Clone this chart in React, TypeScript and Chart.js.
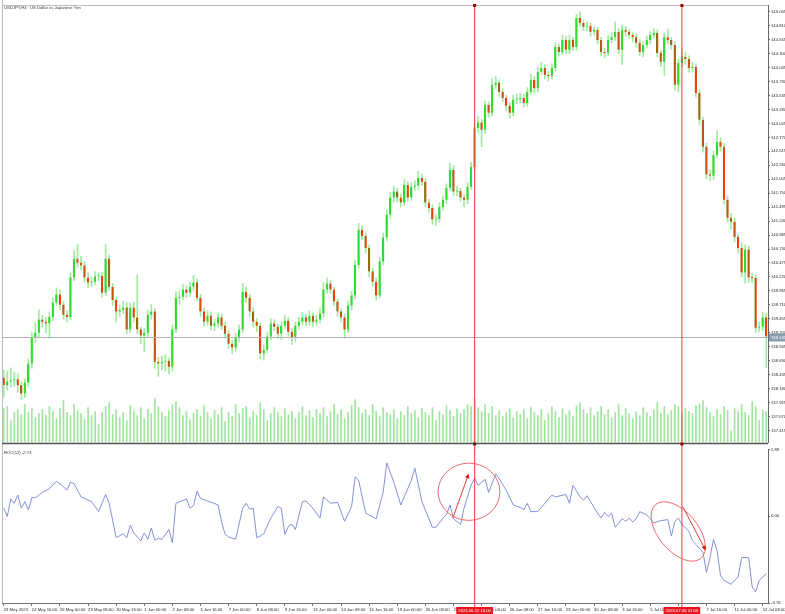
import React, { useEffect, useRef } from "react";
import { Chart, registerables } from "chart.js";
Chart.register(...registerables);

const symbolTitle = "USDJPY,H4:  US Dollar vs Japanese Yen";
const rocTitle = "ROC(12) -2.74";

const opens = [
  138.38,138.24,138.31,138.33,138.35,138.24,138.09,138.29,138.64,139.11,
  139.20,139.44,139.40,139.37,139.49,139.75,139.90,139.71,139.53,139.49,
  140.21,140.55,140.48,140.43,140.21,140.12,140.13,140.23,140.24,139.93,
  140.55,140.04,139.80,139.59,139.62,139.66,139.26,139.66,139.48,139.26,
  139.15,139.20,139.53,139.59,138.67,138.64,138.67,138.69,138.58,139.26,
  139.84,139.86,139.99,139.93,140.04,140.12,139.84,139.59,139.40,139.51,
  139.33,139.37,139.48,139.33,139.18,139.00,138.93,139.11,139.26,139.95,
  139.84,139.59,139.40,139.33,138.82,138.89,139.13,139.37,139.31,139.18,
  139.33,139.42,139.22,139.11,139.33,139.40,139.48,139.40,139.51,139.40,
  139.44,139.55,139.99,140.10,139.99,139.77,139.59,139.48,139.26,139.70,
  139.88,140.44,141.08,140.97,140.75,140.32,140.13,139.88,140.50,140.94,
  141.36,141.67,141.78,141.67,141.58,141.90,141.67,141.87,141.89,142.03,
  141.96,141.58,141.48,141.27,141.28,141.50,141.63,141.85,142.18,141.78,
  141.79,141.67,141.63,141.87,142.23,142.94,143.04,142.91,143.36,143.22,
  143.73,143.77,143.60,143.49,143.35,143.22,143.46,143.47,143.49,143.40,
  143.60,143.82,143.67,143.97,144.04,143.91,143.89,144.04,144.42,144.33,
  144.55,144.37,144.55,144.42,144.95,144.86,144.79,144.81,144.70,144.73,
  144.55,144.33,144.31,144.55,144.60,144.70,144.37,144.73,144.70,144.64,
  144.60,144.50,144.33,144.46,144.55,144.64,144.68,144.31,144.15,144.60,
  144.55,144.46,143.73,144.13,144.24,144.20,144.04,144.06,143.58,143.09,
  142.60,142.09,142.07,142.45,142.69,142.60,141.63,141.30,141.23,140.95,
  140.75,140.30,140.72,140.21,140.20,139.29,139.31,139.48,
];

const closes = [
  138.24,138.31,138.33,138.35,138.24,138.09,138.29,138.64,139.11,139.20,
  139.44,139.40,139.37,139.49,139.75,139.90,139.71,139.53,139.49,140.21,
  140.55,140.48,140.43,140.21,140.12,140.13,140.23,140.24,139.93,140.55,
  140.04,139.80,139.59,139.62,139.66,139.26,139.66,139.48,139.26,139.15,
  139.20,139.53,139.59,138.67,138.64,138.67,138.69,138.58,139.26,139.84,
  139.86,139.99,139.93,140.04,140.12,139.84,139.59,139.40,139.51,139.33,
  139.37,139.48,139.33,139.18,139.00,138.93,139.11,139.26,139.95,139.84,
  139.59,139.40,139.33,138.82,138.89,139.13,139.37,139.31,139.18,139.33,
  139.42,139.22,139.11,139.33,139.40,139.48,139.40,139.51,139.40,139.44,
  139.55,139.99,140.10,139.99,139.77,139.59,139.48,139.26,139.70,139.88,
  140.44,141.08,140.97,140.75,140.32,140.13,139.88,140.50,140.94,141.36,
  141.67,141.78,141.67,141.58,141.90,141.67,141.87,141.89,142.03,141.96,
  141.58,141.48,141.27,141.28,141.50,141.63,141.85,142.18,141.78,141.79,
  141.67,141.63,141.87,142.23,142.94,143.04,142.91,143.36,143.22,143.73,
  143.77,143.60,143.49,143.35,143.22,143.46,143.47,143.49,143.40,143.60,
  143.82,143.67,143.97,144.04,143.91,143.89,144.04,144.42,144.33,144.55,
  144.37,144.55,144.42,144.95,144.86,144.79,144.81,144.70,144.73,144.55,
  144.33,144.31,144.55,144.60,144.70,144.37,144.73,144.70,144.64,144.60,
  144.50,144.33,144.46,144.55,144.64,144.68,144.31,144.15,144.60,144.55,
  144.46,143.73,144.13,144.24,144.20,144.04,144.06,143.58,143.09,142.60,
  142.09,142.07,142.45,142.69,142.60,141.63,141.30,141.23,140.95,140.75,
  140.30,140.72,140.21,140.20,139.29,139.31,139.48,139.13,
];

const highs = [
  138.52,138.50,138.56,138.48,138.45,138.30,138.36,138.72,139.20,139.38,
  139.62,139.52,139.48,139.58,139.84,140.02,139.98,139.78,139.60,140.30,
  140.70,140.82,140.60,140.50,140.30,140.22,140.32,140.30,140.30,140.82,
  140.62,140.10,139.85,139.70,139.78,139.75,139.74,139.76,140.26,139.30,
  139.28,139.62,139.72,139.64,138.75,138.78,138.80,138.74,139.34,139.95,
  139.96,140.08,140.06,140.12,140.25,140.18,139.90,139.65,139.60,139.58,
  139.45,139.56,139.54,139.40,139.24,139.06,139.18,139.34,140.10,140.04,
  139.90,139.66,139.46,139.38,138.98,139.20,139.46,139.44,139.36,139.40,
  139.52,139.48,139.28,139.40,139.48,139.58,139.54,139.60,139.56,139.52,
  139.64,140.12,140.20,140.16,140.04,139.82,139.64,139.54,139.78,139.96,
  140.52,141.20,141.16,141.02,140.80,140.38,140.20,140.58,141.02,141.45,
  141.76,141.88,141.84,141.74,142.00,141.96,141.94,141.98,142.15,142.10,
  142.02,141.64,141.54,141.36,141.58,141.70,141.92,142.30,142.26,141.88,
  141.84,141.72,141.95,142.32,143.02,143.16,143.10,143.44,143.42,143.84,
  143.88,143.82,143.66,143.54,143.40,143.54,143.56,143.58,143.56,143.68,
  143.92,143.88,144.05,144.14,144.10,143.98,144.12,144.50,144.48,144.64,
  144.62,144.64,144.60,145.02,145.07,144.92,144.88,144.86,144.80,144.78,
  144.60,144.40,144.62,144.68,144.88,144.76,144.82,144.80,144.74,144.68,
  144.66,144.56,144.52,144.62,144.70,144.76,144.74,144.36,144.68,144.75,
  144.60,144.52,144.20,144.40,144.32,144.26,144.14,144.12,143.64,143.14,
  142.66,142.18,142.52,142.90,142.76,142.66,141.70,141.38,141.30,141.00,
  140.85,140.80,140.78,140.28,140.26,139.40,139.58,139.56,
];

const lows = [
  138.02,138.15,138.20,138.22,138.12,137.98,138.02,138.22,138.55,139.02,
  139.12,139.30,139.20,139.10,139.42,139.70,139.62,139.45,139.40,139.44,
  140.15,140.40,140.35,140.12,140.02,140.04,140.08,140.15,139.85,139.88,
  139.98,139.70,139.40,139.50,139.55,139.18,139.20,139.40,139.18,139.00,
  138.85,139.12,139.45,138.55,138.40,138.52,138.50,138.45,138.50,139.20,
  139.72,139.80,139.84,139.86,139.98,139.78,139.50,139.32,139.34,139.25,
  139.24,139.30,139.26,139.10,138.92,138.82,138.86,139.04,139.20,139.76,
  139.50,139.30,139.22,138.72,138.70,138.84,139.08,139.24,139.10,139.08,
  139.28,139.14,138.98,139.04,139.26,139.34,139.32,139.34,139.30,139.34,
  139.38,139.48,139.92,139.92,139.70,139.50,139.40,139.10,139.20,139.62,
  139.82,140.38,140.90,140.66,140.22,140.05,139.80,139.84,140.44,140.88,
  141.30,141.60,141.58,141.50,141.52,141.60,141.62,141.80,141.82,141.90,
  141.50,141.40,141.18,141.16,141.22,141.44,141.56,141.80,141.70,141.70,
  141.60,141.50,141.56,141.82,142.18,142.86,142.60,142.84,143.14,143.16,
  143.66,143.52,143.42,143.26,143.12,143.16,143.38,143.40,143.32,143.34,
  143.55,143.58,143.60,143.92,143.84,143.80,143.84,143.98,144.26,144.28,
  144.30,144.30,144.36,144.36,144.80,144.72,144.72,144.62,144.64,144.48,
  144.26,144.22,144.26,144.50,144.54,144.30,144.10,144.62,144.58,144.52,
  144.42,144.26,144.24,144.40,144.48,144.58,144.24,144.06,143.90,144.48,
  144.38,143.62,143.60,144.06,144.10,143.96,143.96,143.50,143.00,142.50,
  142.00,141.98,142.00,142.40,142.52,141.55,141.22,141.10,140.86,140.66,
  140.22,140.10,140.12,140.12,139.20,139.22,139.24,138.56,
];

const volumes = [
  34000,36000,22000,30000,33000,28000,38000,30000,34000,25000,
  29000,33000,27000,36000,31000,24000,34000,42000,30000,27000,
  38000,32000,29000,23000,35000,27000,31000,18000,30000,36000,
  40000,28000,33000,25000,30000,22000,37000,31000,27000,35000,
  24000,33000,29000,44000,36000,30000,26000,32000,38000,41000,
  35000,27000,31000,23000,29000,33000,26000,37000,30000,24000,
  32000,28000,35000,21000,30000,26000,38000,29000,34000,36000,
  25000,31000,27000,40000,33000,22000,29000,35000,30000,26000,
  34000,28000,31000,24000,30000,36000,27000,32000,25000,33000,
  29000,35000,26000,31000,38000,28000,33000,24000,30000,37000,
  43000,35000,29000,33000,27000,38000,31000,26000,35000,30000,
  28000,33000,24000,31000,27000,36000,29000,32000,25000,34000,
  30000,27000,35000,22000,31000,28000,37000,32000,26000,34000,
  29000,33000,38000,36000,44000,35000,31000,38000,29000,36000,
  27000,32000,26000,30000,34000,25000,31000,28000,33000,24000,
  35000,30000,27000,33000,22000,29000,36000,31000,25000,34000,
  28000,32000,26000,37000,40000,33000,29000,35000,27000,31000,
  36000,28000,33000,25000,30000,38000,27000,34000,29000,24000,
  31000,27000,35000,30000,26000,33000,40000,29000,36000,28000,
  32000,38000,36000,30000,34000,31000,29000,37000,39000,42000,
  35000,30000,26000,33000,28000,36000,32000,12000,34000,31000,
  38000,30000,27000,41000,36000,22000,33000,31000,
];

const rocBars = [
  0,1,2,3,4,5,6,7,8,9,11,13,15,16,18,19,20,22,25,27,29,30,
  32,34,35,36,37,39,40,41,42,43,44,45,47,48,
  49,52,53,54,55,56,58,61,62,63,64,66,68,69,70,71,72,
  73,74,76,78,79,80,81,82,83,85,86,88,90,91,93,95,96,97,99,
  100,101,103,106,108,109,111,113,115,116,117,119,
  122,123,125,126,127,128,130,131,133,134,135,137,138,140,141,143,145,147,
  148,149,150,152,154,156,157,160,161,162,164,165,166,167,169,170,171,172,173,174,
  176,177,178,179,180,181,183,185,187,189,190,191,192,193,195,196,197,199,
  200,201,202,203,204,205,207,208,209,210,212,213,214,215,217,
];

const rocValues = [
  0.35,-0.01,0.75,0.56,0.92,0.35,0.63,0.28,0.80,0.80,1.03,1.20,1.51,1.41,1.13,1.48,1.41,0.84,0.63,0.20,0.94,0.56,
  -0.93,-0.76,-0.93,-0.39,-0.72,-1.07,-0.72,-1.00,-0.51,-1.04,-0.96,-1.00,-0.58,-1.15,
  0.56,0.75,0.35,0.46,1.09,0.77,0.66,0.49,-0.25,-0.79,-0.90,-1.00,0.35,0.56,0.30,0.35,-0.93,
  -0.86,-0.76,-0.08,0.42,0.35,-0.79,-0.44,-0.34,-0.58,0.63,0.66,0.35,-0.08,0.84,0.56,0.60,0.20,-0.22,0.42,
  1.70,1.56,0.13,-0.11,1.06,2.31,1.48,0.49,1.20,1.56,2.08,0.63,
  -0.48,-0.48,-0.08,0.06,0.49,-0.11,-0.36,0.35,1.34,1.65,1.34,1.60,1.03,1.84,1.62,1.13,0.49,0.38,
  0.28,0.56,0.20,0.20,0.56,0.92,0.84,0.94,0.56,1.34,0.84,0.70,0.89,0.63,0.13,-0.08,0.17,-0.01,0.13,-0.48,
  -0.11,-0.22,-0.08,-0.25,-0.11,0.20,0.06,-0.29,-0.19,-0.15,-0.86,-0.22,-0.08,-0.36,-0.65,-1.07,-1.22,-1.57,
  -2.43,-1.79,-1.00,-1.50,-2.57,-2.78,-2.95,-2.78,-2.64,-1.79,-1.79,-3.07,-3.28,-2.78,-2.49,
];

const priceTicks = [
  145.065,144.810,144.555,144.300,144.045,143.790,143.535,143.280,143.025,142.770,
  142.515,142.260,142.005,141.750,141.495,141.240,140.985,140.730,140.475,140.220,
  139.965,139.710,139.455,139.200,138.945,138.690,138.435,138.180,137.925,137.670,137.415,
];
const priceMin = 137.195;
const priceMax = 145.189;

const rocTicks = [2.89, 0, -3.76];
const rocTickLabels = ["2.89", "0.00", "-3.76"];

const timeTickBars = [0,8,16,24,32,40,48,56,64,72,80,88,96,104,112,120,128,136,144,152,160,168,176,184,192,200,208,216];
const timeTickLabels = [
  "23 May 2023","24 May 16:00","26 May 00:00","29 May 08:00","30 May 16:00","1 Jun 00:00","2 Jun 08:00",
  "5 Jun 16:00","7 Jun 00:00","8 Jun 08:00","9 Jun 16:00","13 Jun 00:00","14 Jun 08:00","15 Jun 16:00",
  "19 Jun 00:00","20 Jun 08:00","21 Jun 16:00","23 Jun 00:00","26 Jun 08:00","27 Jun 16:00","29 Jun 00:00",
  "30 Jun 08:00","3 Jul 16:00","5 Jul 00:00","6 Jul 08:00","7 Jul 16:00","11 Jul 00:00","12 Jul 08:00",
];

const markerBars = [134, 193];
const markerLabels = ["2023.06.22 16:00", "2023.07.06 12:00"];
const bidPrice = 139.131;

const ellipseNotes = [
  { bar: 132.4, value: 1.06, rxBars: 8.8, ryValue: 1.24, angleDeg: 0 },
  { bar: 191.95, value: -0.66, rxBars: 10.0, ryValue: 0.85, angleDeg: 50 },
];
const arrowNotes = [
  { fromBar: 127.8, fromValue: -0.08, toBar: 132.2, toValue: 1.79 },
  { fromBar: 193.2, fromValue: 0.42, toBar: 199.6, toValue: -1.43 },
];

const FONT = '"Liberation Sans", Arial, sans-serif';
const FS = 4.2;
const BULL = "#2fdc2f";
const BEAR = "#f2400f";
const BEAR_EDGE = "#8d6a10";
const WICK = "#a2eaa2";
const VOL = "#9fe49f";
const RED_LINE = "rgba(240, 60, 60, 0.85)";

function drawMarkerLine(ctx: CanvasRenderingContext2D, x: number, y1: number, y2: number) {
  ctx.save();
  ctx.fillStyle = RED_LINE;
  ctx.fillRect(x - 0.6, y1, 1.2, y2 - y1);
  ctx.restore();
}

export default function App() {
  const mainRef = useRef<HTMLCanvasElement>(null);
  const rocRef = useRef<HTMLCanvasElement>(null);

  useEffect(() => {
    const labels = opens.map((_, i) => String(i));

    const mainPlugin = {
      id: "mainDecor",
      afterDraw(chart: any) {
        const { ctx, chartArea } = chart;
        const xs = chart.scales.x;
        const ys = chart.scales.y;
        ctx.save();
        ctx.strokeStyle = "#bdbdbd";
        ctx.lineWidth = 1;
        ctx.beginPath();
        ctx.moveTo(chartArea.left + 0.5, 0);
        ctx.lineTo(chartArea.left + 0.5, chart.height);
        ctx.moveTo(chartArea.left, chartArea.top + 0.5);
        ctx.lineTo(chartArea.right, chartArea.top + 0.5);
        ctx.stroke();
        ctx.strokeStyle = "#555";
        ctx.lineWidth = 1.5;
        ctx.beginPath();
        ctx.moveTo(chartArea.left, chartArea.bottom + 1);
        ctx.lineTo(chartArea.right, chartArea.bottom + 1);
        ctx.stroke();
        // bid line
        const by = Math.round(ys.getPixelForValue(bidPrice)) + 0.5;
        ctx.strokeStyle = "#b4b4b4";
        ctx.lineWidth = 1;
        ctx.beginPath();
        ctx.moveTo(chartArea.left, by);
        ctx.lineTo(chartArea.right, by);
        ctx.stroke();
        ctx.fillStyle = "#8a9cb2";
        ctx.fillRect(chartArea.right + 1, by - 4, chart.width - chartArea.right - 1, 8);
        ctx.fillStyle = "#ffffff";
        ctx.font = `${FS}px ${FONT}`;
        ctx.textBaseline = "middle";
        ctx.textAlign = "left";
        ctx.fillText(bidPrice.toFixed(3), chartArea.right + 3, by);
        // marker lines
        markerBars.forEach((b) => {
          const x = xs.getPixelForValue(b);
          drawMarkerLine(ctx, x, chartArea.top, chart.height);
          ctx.fillStyle = "#9a0000";
          ctx.fillRect(x - 1.5, chartArea.top - 1, 3, 3);
          ctx.fillRect(x - 1.5, chartArea.bottom, 3, 3);
        });
        // title
        ctx.fillStyle = "#333";
        ctx.font = `${FS}px ${FONT}`;
        ctx.textAlign = "left";
        ctx.textBaseline = "middle";
        ctx.fillText(symbolTitle, chartArea.left + 2, chartArea.top + 2.5);
        ctx.restore();
      },
    };

    const mainChart = new Chart(mainRef.current as HTMLCanvasElement, {
      type: "bar",
      data: {
        labels,
        datasets: [
          {
            type: "bar",
            label: "Volume",
            data: volumes,
            yAxisID: "yv",
            backgroundColor: VOL,
            barThickness: 1,
            grouped: false,
            order: 3,
          } as any,
          {
            type: "bar",
            label: "Range",
            data: labels.map((_, i) => [lows[i], highs[i]]),
            yAxisID: "y",
            backgroundColor: WICK,
            barThickness: 1,
            grouped: false,
            order: 2,
          } as any,
          {
            type: "bar",
            label: "Body",
            data: labels.map((_, i) => [opens[i], closes[i]]),
            yAxisID: "y",
            backgroundColor: (c: any) => (closes[c.dataIndex] >= opens[c.dataIndex] ? BULL : BEAR),
            borderColor: (c: any) => (closes[c.dataIndex] >= opens[c.dataIndex] ? BULL : BEAR_EDGE),
            borderWidth: { left: 1, right: 0, top: 0, bottom: 0 },
            borderSkipped: false,
            barThickness: 2,
            minBarLength: 1,
            grouped: false,
            order: 1,
          } as any,
        ],
      },
      options: {
        animation: false,
        responsive: false,
        maintainAspectRatio: false,
        events: [],
        layout: { padding: { left: 2, top: 5, right: 0, bottom: 3 } },
        plugins: { legend: { display: false }, tooltip: { enabled: false } },
        scales: {
          x: { type: "category", display: false, offset: true, grid: { display: false } },
          y: {
            position: "right",
            min: priceMin,
            max: priceMax,
            afterBuildTicks: (a: any) => {
              a.ticks = priceTicks.map((v) => ({ value: v }));
            },
            afterFit: (s: any) => {
              s.width = 17;
            },
            ticks: {
              autoSkip: false,
              padding: 1,
              color: "#2a2a2a",
              font: { size: FS, family: FONT },
              callback: (v: any) => Number(v).toFixed(3),
            },
            grid: { drawOnChartArea: false, tickLength: 2, color: "#666" },
            border: { display: true, color: "#666" },
          },
          yv: { display: false, min: 0, max: 438000 },
        },
      } as any,
      plugins: [mainPlugin],
    });

    const rocPlugin = {
      id: "rocDecor",
      afterDraw(chart: any) {
        const { ctx, chartArea } = chart;
        const xs = chart.scales.x;
        const ys = chart.scales.y;
        ctx.save();
        ctx.strokeStyle = "#bdbdbd";
        ctx.lineWidth = 1;
        ctx.beginPath();
        ctx.moveTo(chartArea.left + 0.5, 0);
        ctx.lineTo(chartArea.left + 0.5, chartArea.bottom);
        ctx.stroke();
        // marker lines and labels
        markerBars.forEach((b, i) => {
          const x = xs.getPixelForValue(b);
          drawMarkerLine(ctx, x, 0, chartArea.bottom + 4);
          ctx.font = `${FS}px ${FONT}`;
          const w = ctx.measureText(markerLabels[i]).width + 4;
          ctx.fillStyle = "#e8141e";
          ctx.fillRect(x - w / 2, chartArea.bottom + 4, w, 7);
          ctx.fillStyle = "#ffffff";
          ctx.textAlign = "center";
          ctx.textBaseline = "middle";
          ctx.fillText(markerLabels[i], x, chartArea.bottom + 7.5);
        });
        // ellipses
        ellipseNotes.forEach((e) => {
          const cx = xs.getPixelForValue(e.bar);
          const cy = ys.getPixelForValue(e.value);
          const rx = Math.abs(xs.getPixelForValue(e.bar + e.rxBars) - cx);
          const ry = Math.abs(ys.getPixelForValue(e.value + e.ryValue) - cy);
          ctx.strokeStyle = "#ee6a6a";
          ctx.lineWidth = 1;
          ctx.beginPath();
          ctx.ellipse(cx, cy, rx, ry, (e.angleDeg * Math.PI) / 180, 0, Math.PI * 2);
          ctx.stroke();
        });
        // arrows
        arrowNotes.forEach((a) => {
          const x1 = xs.getPixelForValue(a.fromBar);
          const y1 = ys.getPixelForValue(a.fromValue);
          const x2 = xs.getPixelForValue(a.toBar);
          const y2 = ys.getPixelForValue(a.toValue);
          ctx.strokeStyle = "#e44040";
          ctx.lineWidth = 1;
          ctx.beginPath();
          ctx.moveTo(x1, y1);
          ctx.lineTo(x2, y2);
          ctx.stroke();
          const ang = Math.atan2(y2 - y1, x2 - x1);
          ctx.fillStyle = "#e01010";
          ctx.beginPath();
          ctx.moveTo(x2 + Math.cos(ang) * 1.5, y2 + Math.sin(ang) * 1.5);
          ctx.lineTo(x2 - Math.cos(ang - 0.6) * 4, y2 - Math.sin(ang - 0.6) * 4);
          ctx.lineTo(x2 - Math.cos(ang + 0.6) * 4, y2 - Math.sin(ang + 0.6) * 4);
          ctx.closePath();
          ctx.fill();
        });
        ctx.fillStyle = "#333";
        ctx.font = `${FS}px ${FONT}`;
        ctx.textAlign = "left";
        ctx.textBaseline = "middle";
        ctx.fillText(rocTitle, chartArea.left + 2, chartArea.top + 3);
        ctx.restore();
      },
    };

    const rocChart = new Chart(rocRef.current as HTMLCanvasElement, {
      type: "line",
      data: {
        datasets: [
          {
            label: "ROC(12)",
            data: rocBars.map((b, i) => ({ x: b, y: rocValues[i] })),
            borderColor: "#8391d6",
            borderWidth: 1,
            pointRadius: 0,
            tension: 0,
            fill: false,
          },
        ],
      },
      options: {
        animation: false,
        responsive: false,
        maintainAspectRatio: false,
        events: [],
        layout: { padding: { left: 2, top: 1, right: 0, bottom: 0 } },
        plugins: { legend: { display: false }, tooltip: { enabled: false } },
        scales: {
          x: {
            type: "linear",
            min: -0.5,
            max: opens.length - 0.5,
            afterBuildTicks: (a: any) => {
              a.ticks = timeTickBars.map((v) => ({ value: v }));
            },
            afterFit: (s: any) => {
              s.height = 11;
              s.paddingLeft = 0;
              s.paddingRight = 0;
            },
            ticks: {
              autoSkip: false,
              maxRotation: 0,
              minRotation: 0,
              align: "start",
              padding: 1,
              color: "#2a2a2a",
              font: { size: FS, family: FONT },
              callback: (_v: any, i: number) => timeTickLabels[i],
            },
            grid: { drawOnChartArea: false, tickLength: 3, color: "#777" },
            border: { display: true, color: "#777" },
          },
          y: {
            position: "right",
            min: -3.76,
            max: 2.89,
            afterBuildTicks: (a: any) => {
              a.ticks = rocTicks.map((v) => ({ value: v }));
            },
            afterFit: (s: any) => {
              s.width = 17;
            },
            ticks: {
              autoSkip: false,
              padding: 1,
              color: "#2a2a2a",
              font: { size: FS, family: FONT },
              callback: (_v: any, i: number) => rocTickLabels[i],
            },
            grid: { drawOnChartArea: false, tickLength: 2, color: "#666" },
            border: { display: true, color: "#666" },
          },
        },
      } as any,
      plugins: [rocPlugin],
    });

    return () => {
      mainChart.destroy();
      rocChart.destroy();
    };
  }, []);

  return (
    <div style={{ position: "absolute", left: 0, top: 0, width: 785, height: 614, background: "#ffffff" }}>
      <canvas
        ref={mainRef}
        width={785}
        height={446}
        style={{ position: "absolute", left: 0, top: 0, width: 785, height: 446 }}
      />
      <canvas
        ref={rocRef}
        width={785}
        height={168}
        style={{ position: "absolute", left: 0, top: 446, width: 785, height: 168 }}
      />
    </div>
  );
}
